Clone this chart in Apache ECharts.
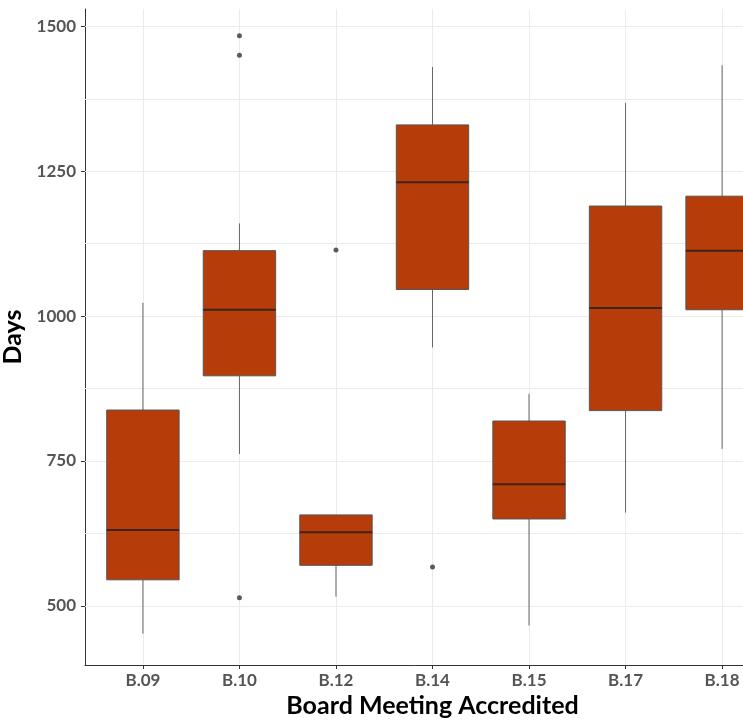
<!DOCTYPE html>
<html>
<head>
<meta charset="utf-8">
<script src="https://cdn.jsdelivr.net/npm/echarts@6/dist/echarts.min.js"></script>
<style>
  html, body { margin: 0; padding: 0; background: #fff; }
  #chart { width: 743px; height: 720px; }
</style>
</head>
<body>
<div id="chart"></div>
<script>
// values
const categories = ['B.09', 'B.10', 'B.12', 'B.14', 'B.15', 'B.17', 'B.18']
const whiskerLow = [452, 762, 516, 946, 466, 661, 771]
const q1 = [545, 897, 570, 1046, 650, 837, 1011]
const median = [631, 1011, 627, 1231, 710, 1014, 1113]
const q3 = [838, 1113, 657, 1330, 819, 1190, 1207]
const whiskerHigh = [1023, 1160, 657, 1430, 866, 1368, 1433]
const outliers = [[1, 1484], [1, 1450], [1, 514], [2, 1114], [3, 567]]
const yTicks = [500, 750, 1000, 1250, 1500]
const yMinorTicks = [625, 875, 1125, 1375]

const boxData = categories.map((c, i) => [i, whiskerLow[i], q1[i], median[i], q3[i], whiskerHigh[i]])
const xTicks = categories.map((c, i) => i)

const gridStyle = { color: '#ebebeb', width: 1, type: 'solid' }
const labelFont = { fontFamily: 'Lato', fontWeight: 'bold', fontSize: 17, color: '#555' }
const titleFont = { fontFamily: 'Lato', fontWeight: 'bold', fontSize: 25, color: '#000' }

const chart = echarts.init(document.getElementById('chart'))

const renderBox = (params, api) => {
  const x = api.value(0)
  const lo = api.coord([x, api.value(1)])
  const b1 = api.coord([x, api.value(2)])
  const md = api.coord([x, api.value(3)])
  const b3 = api.coord([x, api.value(4)])
  const hi = api.coord([x, api.value(5)])
  const half = api.size([0.75, 0])[0] / 2
  const whisker = { stroke: '#666', lineWidth: 1 }
  return {
    type: 'group',
    children: [
      { type: 'line', shape: { x1: lo[0], y1: lo[1], x2: b1[0], y2: b1[1] }, style: whisker },
      { type: 'line', shape: { x1: b3[0], y1: b3[1], x2: hi[0], y2: hi[1] }, style: whisker },
      {
        type: 'rect',
        shape: { x: b3[0] - half, y: b3[1], width: half * 2, height: b1[1] - b3[1] },
        style: { fill: '#b63c0a', stroke: '#555', lineWidth: 1 }
      },
      {
        type: 'line',
        shape: { x1: md[0] - half, y1: md[1], x2: md[0] + half, y2: md[1] },
        style: { stroke: '#3d2418', lineWidth: 2 }
      }
    ]
  }
}

// grid lines as full-width segments on the axes' scales
const hLine = (v) => [{ coord: [-0.6, v] }, { coord: [6.6, v] }]
const vLine = (v) => [{ coord: [v, 398] }, { coord: [v, 1530] }]

const option = {
  animation: false,
  backgroundColor: '#fff',
  grid: { left: 85, top: 9, height: 656, width: 695, outerBoundsMode: 'none', containLabel: false },
  xAxis: {
    type: 'value',
    min: -0.6,
    max: 6.6,
    name: 'Board Meeting Accredited',
    nameLocation: 'middle',
    nameGap: 25,
    nameTextStyle: titleFont,
    axisLine: { show: true, onZero: false, lineStyle: { color: '#333', width: 1 } },
    axisTick: { show: true, length: 4, customValues: xTicks, lineStyle: { color: '#333' } },
    axisLabel: {
      ...labelFont,
      margin: 7,
      customValues: xTicks,
      formatter: (v) => categories[Math.round(v)]
    },
    splitLine: { show: false }
  },
  yAxis: {
    type: 'value',
    min: 398,
    max: 1530,
    name: 'Days',
    nameLocation: 'middle',
    nameRotate: 90,
    nameGap: 54,
    nameTextStyle: titleFont,
    axisLine: { show: true, onZero: false, lineStyle: { color: '#333', width: 1 } },
    axisTick: { show: true, length: 4, customValues: yTicks, lineStyle: { color: '#333' } },
    axisLabel: { ...labelFont, margin: 9, customValues: yTicks, formatter: (v) => String(v) },
    splitLine: { show: false }
  },
  series: [
    {
      type: 'custom',
      name: 'box',
      z: 2,
      renderItem: renderBox,
      encode: { x: 0, y: [1, 2, 3, 4, 5] },
      data: boxData,
      clip: false
    },
    {
      type: 'scatter',
      name: 'outliers',
      z: 3,
      symbolSize: 5,
      itemStyle: { color: '#333' },
      data: outliers,
      markLine: {
        z: 1,
        silent: true,
        symbol: ['none', 'none'],
        label: { show: false },
        lineStyle: gridStyle,
        emphasis: { disabled: true },
        data: [
          ...yTicks.map(hLine),
          ...yMinorTicks.map(hLine),
          ...xTicks.map(vLine)
        ]
      }
    }
  ]
}

chart.setOption(option)
</script>
</body>
</html>
